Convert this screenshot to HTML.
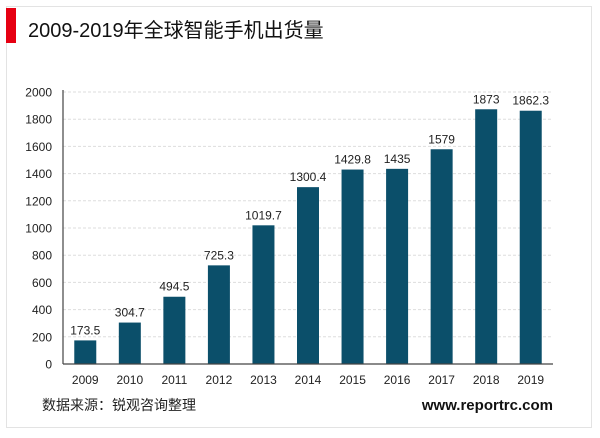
<!DOCTYPE html>
<html><head><meta charset="utf-8"><style>
body{margin:0;background:#fff;width:600px;height:433px;overflow:hidden;font-family:"Liberation Sans","Noto Sans CJK SC",sans-serif}
</style></head><body>
<svg width="600" height="433">
<rect x="6.5" y="6.5" width="585" height="421" fill="#fff" stroke="#e3e3e3"/>
<rect x="6" y="8" width="10" height="35" fill="#e60012"/>
<text x="28" y="37" font-size="20" fill="#111" font-family="Liberation Sans,Noto Sans CJK SC,sans-serif">2009-2019年全球智能手机出货量</text>
<g id="grid"></g><g id="bars"></g><g id="axes"></g>
<text x="42" y="410" font-size="14" fill="#222">数据来源：锐观咨询整理</text>
<text x="553" y="410" font-size="15" font-weight="bold" fill="#111" text-anchor="end">www.reportrc.com</text>
</svg>
<script>
const categories=["2009","2010","2011","2012","2013","2014","2015","2016","2017","2018","2019"];
const values=[173.5,304.7,494.5,725.3,1019.7,1300.4,1429.8,1435,1579,1873,1862.3];
const labels=["173.5","304.7","494.5","725.3","1019.7","1300.4","1429.8","1435","1579","1873","1862.3"];
const yTicks=[0,200,400,600,800,1000,1200,1400,1600,1800,2000];
const NS="http://www.w3.org/2000/svg";
const x0=63,x1=553,yb=364,yt=92,ymax=2000;
const y=v=>yb-(v/ymax)*(yb-yt);
const step=(x1-x0)/categories.length;
const xc=i=>x0+step*(i+0.5);
function mk(t,a,p){const e=document.createElementNS(NS,t);for(const k in a)e.setAttribute(k,a[k]);document.getElementById(p).appendChild(e);return e;}
yTicks.forEach(v=>{
 if(v>0){const g=mk('line',{x1:x0,x2:x1,y1:y(v),y2:y(v),stroke:'#ddd','stroke-dasharray':'3,2'},'grid');
 
 }
 const t=mk('text',{x:52,y:y(v)+4.5,'font-size':12,'text-anchor':'end',fill:'#222'},'axes');t.textContent=v;
 
 
});
values.forEach((v,i)=>{
 const r=mk('rect',{x:xc(i)-11,y:y(v),width:22,height:yb-y(v),fill:'#0b4f6a'},'bars');
 
 
 const l=mk('text',{x:xc(i),y:y(v)-6,'font-size':12,'text-anchor':'middle',fill:'#222'},'bars');l.textContent=labels[i];
 
 
 const c=mk('text',{x:xc(i),y:384,'font-size':12,'text-anchor':'middle',fill:'#222'},'axes');c.textContent=categories[i];
 
 
});
const ya=mk('line',{x1:x0,x2:x0,y1:yt-2,y2:yb,stroke:'#444','stroke-width':1.2},'axes');


const xa=mk('line',{x1:x0,x2:x1,y1:yb,y2:yb,stroke:'#444','stroke-width':1.2},'axes');


</script>
</body></html>
